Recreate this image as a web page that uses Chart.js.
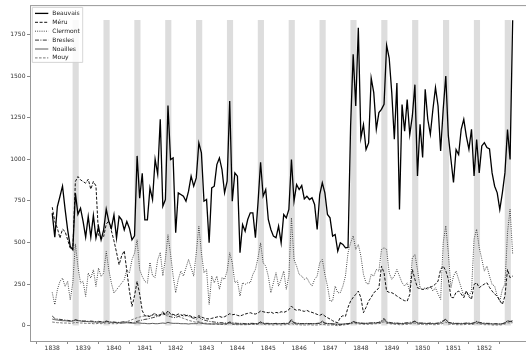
<!DOCTYPE html>
<html lang="fr">
<head>
  <meta charset="UTF-8">
  <title>Beauvais et environs</title>
  <script src="https://cdn.jsdelivr.net/npm/chart.js"></script>
  <style>
    html, body { margin: 0; padding: 0; background: #fff; width: 526px; height: 352px; overflow: hidden; }
    #chart { display: block; }
  </style>
</head>
<body>
<canvas id="chart" width="540" height="352"></canvas>
<script>
  // monthly series, Jan 1838 .. Dec 1852 (one row per year)
  const firstYear = 1838;
  const yearTicks = [1838, 1839, 1840, 1841, 1842, 1843, 1844, 1845, 1846, 1847, 1848, 1849, 1850, 1851, 1852];
  const valueTicks = [0, 250, 500, 750, 1000, 1250, 1500, 1750];

  const beauvais = [
    676, 532, 716, 776, 838, 700, 576, 476, 456, 796, 670, 706,
    626, 532, 656, 532, 662, 526, 596, 516, 576, 700, 626, 586,
    666, 526, 656, 636, 576, 626, 586, 516, 540, 1020, 766, 916,
    636, 636, 828, 758, 1000, 910, 1240, 718, 758, 1322, 998, 1008,
    558, 798, 788, 778, 748, 808, 898, 838, 888, 1098, 1038, 748,
    758, 498, 828, 838, 968, 1008, 938, 798, 868, 1350, 748, 918,
    898, 438, 608, 568, 638, 678, 678, 528, 738, 982, 778, 818,
    638, 578, 538, 528, 598, 498, 668, 648, 698, 998, 748, 848,
    818, 842, 762, 778, 758, 768, 728, 578, 788, 858, 798, 668,
    648, 538, 548, 448, 498, 488, 468, 470, 1200, 1630, 1320, 1790,
    1128, 1208, 1058, 1098, 1488, 1400, 1180, 1280, 1300, 1330, 1684, 1608,
    1400, 1120, 1458, 698, 1328, 1168, 1358, 1148, 1260, 1448, 900, 1210,
    1010, 1420, 1240, 1150, 1300, 1430, 1320, 1050, 1300, 1500, 1140, 1000,
    860, 1058, 1028, 1180, 1240, 1138, 1060, 1180, 900, 1118, 918, 1080,
    1100, 1070, 1062, 918, 838, 798, 698, 798, 918, 1178, 998, 1835
  ];
  const meru = [
    712, 626, 586, 526, 580, 566, 516, 466, 456, 866, 896, 876,
    866, 856, 880, 820, 866, 840, 546, 520, 536, 610, 630, 570,
    510, 440, 366, 420, 450, 330, 210, 116, 180, 266, 190, 90,
    60, 56, 56, 66, 76, 56, 66, 76, 66, 90, 70, 68,
    62, 70, 66, 58, 60, 64, 56, 52, 48, 60, 52, 46,
    42, 40, 44, 48, 52, 56, 50, 54, 62, 72, 66, 68,
    62, 58, 64, 70, 74, 78, 72, 70, 76, 88, 84, 80,
    78, 82, 74, 80, 76, 84, 80, 86, 96, 118, 100, 92,
    96, 90, 86, 92, 84, 80, 74, 68, 62, 70, 58, 48,
    40, 30, 22, 18, 50, 60, 56, 110, 148, 170, 188, 208,
    168, 78, 110, 148, 170, 198, 210, 228, 358, 318, 208, 200,
    198, 190, 178, 168, 158, 150, 148, 188, 338, 278, 228, 222,
    218, 220, 228, 230, 238, 250, 268, 338, 358, 330, 280, 170,
    168, 200, 208, 190, 168, 208, 175, 158, 248, 258, 228, 240,
    250, 258, 230, 208, 190, 178, 150, 128, 178, 338, 288, 298
  ];
  const clermont = [
    200, 126, 216, 266, 286, 236, 266, 156, 256, 492, 356, 256,
    266, 176, 316, 286, 336, 236, 346, 296, 316, 446, 336, 256,
    196, 216, 236, 256, 276, 336, 316, 396, 436, 516, 336, 296,
    266, 256, 380, 300, 290, 396, 440, 300, 400, 546, 430, 300,
    198, 278, 328, 298, 348, 398, 348, 298, 438, 598, 438, 318,
    338, 128, 298, 258, 298, 218, 288, 278, 328, 438, 378, 258,
    270, 178, 258, 248, 258, 258, 308, 338, 408, 498, 378, 358,
    298, 198, 258, 318, 238, 278, 328, 218, 300, 648, 398, 358,
    308, 298, 278, 288, 258, 238, 278, 298, 378, 398, 308, 238,
    148, 148, 238, 198, 198, 238, 298, 438, 498, 540, 458, 488,
    418, 308, 258, 248, 308, 298, 338, 328, 458, 468, 458, 318,
    278, 298, 338, 298, 258, 238, 258, 208, 408, 428, 338, 228,
    218, 228, 218, 238, 208, 228, 190, 158, 498, 600, 438, 228,
    298, 328, 278, 228, 178, 208, 178, 208, 520, 580, 470, 400,
    328, 358, 298, 248, 238, 178, 148, 218, 250, 560, 700, 430
  ];
  const bresles = [
    58, 44, 40, 38, 36, 34, 32, 30, 30, 36, 32, 30,
    28, 28, 26, 28, 26, 24, 26, 24, 22, 28, 24, 22,
    22, 20, 20, 22, 24, 22, 20, 18, 20, 26, 30, 34,
    38, 40, 44, 48, 52, 56, 60, 88, 62, 58, 54, 50,
    48, 56, 60, 68, 62, 56, 50, 44, 38, 52, 40, 34,
    30, 26, 24, 22, 20, 18, 18, 16, 16, 22, 18, 16,
    14, 14, 14, 12, 12, 14, 14, 12, 14, 22, 16, 14,
    14, 12, 12, 14, 12, 12, 14, 14, 16, 40, 18, 16,
    14, 12, 12, 14, 12, 12, 12, 14, 16, 24, 16, 14,
    12, 10, 8, 6, 6, 8, 10, 12, 16, 26, 20, 18,
    16, 14, 14, 16, 16, 18, 18, 20, 30, 44, 24, 20,
    18, 16, 16, 14, 14, 16, 18, 20, 22, 28, 18, 16,
    16, 14, 14, 16, 14, 14, 16, 22, 30, 40, 20, 18,
    16, 14, 14, 14, 14, 16, 16, 14, 18, 26, 20, 18,
    16, 14, 14, 12, 12, 12, 10, 12, 18, 30, 24, 26
  ];
  const noailles = [
    40, 36, 34, 32, 30, 30, 28, 26, 28, 34, 30, 28,
    26, 26, 24, 24, 22, 22, 20, 22, 20, 26, 22, 20,
    20, 18, 18, 16, 16, 18, 16, 16, 14, 18, 16, 14,
    14, 12, 12, 14, 12, 12, 14, 16, 14, 20, 16, 14,
    14, 14, 12, 12, 12, 10, 12, 12, 12, 18, 14, 12,
    10, 10, 10, 10, 12, 10, 10, 12, 12, 20, 12, 10,
    10, 10, 10, 10, 10, 10, 12, 12, 12, 22, 14, 12,
    12, 12, 12, 12, 12, 12, 12, 12, 14, 30, 16, 12,
    12, 12, 12, 12, 12, 12, 12, 12, 14, 28, 14, 12,
    12, 12, 10, 10, 10, 10, 12, 12, 14, 24, 18, 16,
    14, 14, 14, 14, 16, 16, 16, 18, 22, 38, 20, 16,
    14, 14, 14, 12, 12, 14, 14, 14, 18, 26, 16, 14,
    14, 14, 12, 14, 12, 12, 14, 16, 26, 38, 18, 14,
    14, 12, 12, 12, 12, 14, 14, 12, 16, 24, 16, 14,
    12, 12, 12, 10, 10, 10, 10, 12, 16, 28, 26, 30
  ];
  const mouy = [
    22, 20, 18, 18, 16, 16, 16, 14, 16, 20, 18, 16,
    16, 14, 14, 14, 12, 12, 14, 12, 14, 18, 14, 12,
    12, 12, 14, 16, 20, 24, 30, 36, 42, 48, 52, 56,
    58, 60, 62, 62, 64, 64, 66, 66, 68, 70, 66, 64,
    60, 56, 50, 44, 38, 32, 28, 24, 20, 26, 18, 16,
    14, 12, 10, 10, 8, 8, 8, 6, 8, 14, 8, 6,
    6, 6, 6, 6, 6, 8, 8, 6, 8, 12, 8, 6,
    6, 6, 4, 6, 6, 4, 6, 6, 8, 14, 8, 6,
    6, 4, 4, 4, 6, 4, 4, 4, 6, 10, 6, 4,
    4, 4, 2, 0, 2, 4, 6, 8, 10, 16, 12, 10,
    10, 8, 8, 8, 10, 10, 12, 12, 16, 24, 14, 12,
    10, 8, 8, 6, 6, 8, 8, 10, 12, 16, 10, 8,
    8, 6, 6, 8, 6, 6, 8, 10, 14, 22, 10, 8,
    8, 6, 6, 6, 6, 8, 8, 6, 10, 14, 10, 8,
    6, 6, 6, 4, 4, 4, 4, 6, 10, 18, 16, 18
  ];

  // grey autumn bands, one per year
  const bandPos = [1838.76, 1839.76, 1840.76, 1841.76, 1842.76, 1843.76, 1844.76, 1845.76,
                   1846.76, 1847.76, 1848.76, 1849.76, 1850.76, 1851.76, 1852.76];
  const bandTop = 1835;

  const toPoints = arr => arr.map((v, i) => ({ x: firstYear + i / 12, y: v }));

  const series = [
    { label: 'Beauvais', data: beauvais, color: '#000000', width: 1.3, dash: [] },
    { label: 'Méru',     data: meru,     color: '#111111', width: 1.0, dash: [3, 1.6] },
    { label: 'Clermont', data: clermont, color: '#222222', width: 0.9, dash: [0.9, 1.3] },
    { label: 'Bresles',  data: bresles,  color: '#222222', width: 0.9, dash: [4, 1.4, 1, 1.4] },
    { label: 'Noailles', data: noailles, color: '#333333', width: 0.8, dash: [] },
    { label: 'Mouy',     data: mouy,     color: '#555555', width: 0.8, dash: [2.6, 1.4] }
  ];

  const datasets = series.map(s => ({
    type: 'line',
    label: s.label,
    data: toPoints(s.data),
    borderColor: s.color,
    borderWidth: s.width,
    borderDash: s.dash,
    pointRadius: 0,
    tension: 0,
    fill: false,
    order: 0
  }));
  datasets.push({
    type: 'bar',
    label: 'bands',
    data: bandPos.map(x => ({ x: x, y: bandTop })),
    backgroundColor: '#dddddd',
    borderWidth: 0,
    barThickness: 5.5,
    order: 1
  });

  // frame around plot area
  const frame = {
    id: 'frame',
    afterDatasetsDraw(chart) {
      const { ctx, chartArea: a } = chart;
      ctx.save();
      ctx.strokeStyle = '#999999';
      ctx.lineWidth = 1;
      ctx.strokeRect(a.left + 0.5, a.top + 0.5, a.right - a.left, a.bottom - a.top);
      ctx.restore();
    }
  };

  // matplotlib-like legend box in the upper left corner
  const legendBox = {
    id: 'legendBox',
    afterDraw(chart) {
      const { ctx, chartArea: a } = chart;
      const x0 = a.left + 2.3, y0 = a.top + 2.3, w = 50.4, h = 55;
      ctx.save();
      ctx.fillStyle = 'rgba(255,255,255,0.85)';
      ctx.strokeStyle = '#cccccc';
      ctx.lineWidth = 0.8;
      ctx.beginPath();
      ctx.rect(x0, y0, w, h);
      ctx.fill();
      ctx.stroke();
      ctx.font = '6px "DejaVu Sans"';
      ctx.textBaseline = 'middle';
      series.forEach((s, k) => {
        const y = y0 + 6 + k * 8.9;
        ctx.strokeStyle = s.color;
        ctx.lineWidth = s.width;
        ctx.setLineDash(s.dash);
        ctx.beginPath();
        ctx.moveTo(x0 + 2.7, y);
        ctx.lineTo(x0 + 16, y);
        ctx.stroke();
        ctx.setLineDash([]);
        ctx.fillStyle = '#222222';
        ctx.fillText(s.label, x0 + 20, y);
      });
      ctx.restore();
    }
  };

  const tickFont = { family: 'DejaVu Sans', size: 6 };

  new Chart(document.getElementById('chart'), {
    type: 'line',
    data: { datasets: datasets },
    plugins: [frame, legendBox],
    options: {
      responsive: false,
      animation: false,
      layout: { padding: { top: 5, right: 4.4, left: 0, bottom: 0 } },
      plugins: { legend: { display: false }, tooltip: { enabled: false } },
      scales: {
        x: {
          type: 'linear',
          offset: false,
          min: 1837.28,
          max: 1853.66,
          grid: { drawOnChartArea: false, tickLength: 3, color: '#888888' },
          border: { display: false },
          ticks: { font: tickFont, color: '#333333', padding: 1, maxRotation: 0, autoSkip: false,
                   callback: v => String(v) },
          afterBuildTicks: sc => { sc.ticks = yearTicks.map(v => ({ value: v })); },
          afterFit: sc => { sc.height = 11; }
        },
        y: {
          min: -92,
          max: 1926,
          grid: { drawOnChartArea: false, tickLength: 3, color: '#888888' },
          border: { display: false },
          ticks: { font: tickFont, color: '#333333', padding: 1.5, callback: v => String(v) },
          afterBuildTicks: sc => { sc.ticks = valueTicks.map(v => ({ value: v })); },
          afterFit: sc => { sc.width = 30; }
        }
      }
    }
  });
</script>
</body>
</html>
